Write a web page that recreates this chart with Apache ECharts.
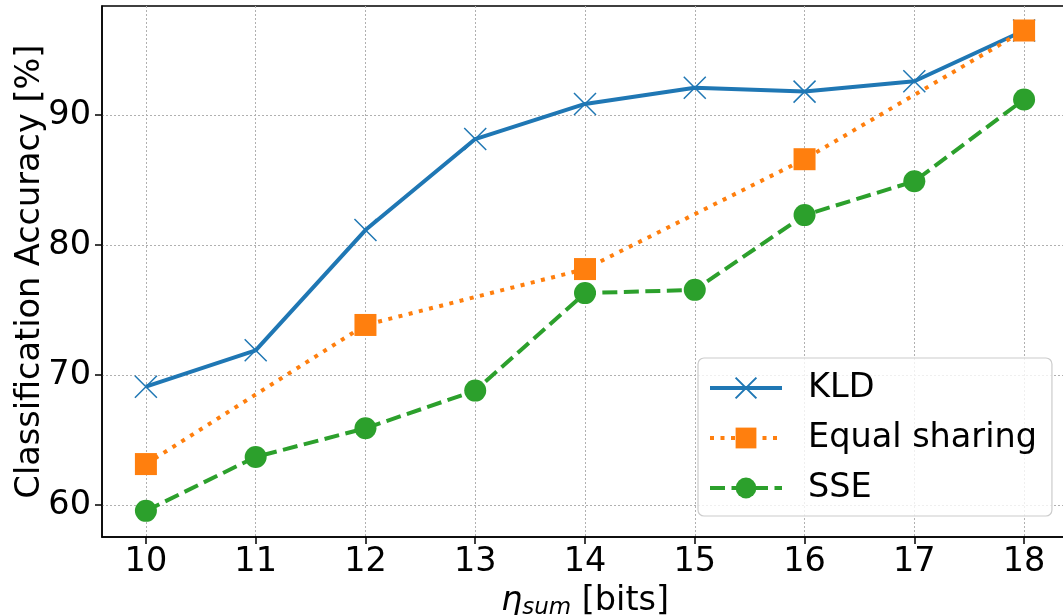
<!DOCTYPE html>
<html>
<head>
<meta charset="utf-8">
<script src="https://cdn.jsdelivr.net/npm/echarts@6/dist/echarts.min.js"></script>
<style>html,body{margin:0;padding:0;background:#fff}#c{width:1063px;height:615px}</style>
</head>
<body>
<div id="c"></div>
<script>
var xTicks = [10, 11, 12, 13, 14, 15, 16, 17, 18];
var yTicks = [60, 70, 80, 90];
var kldX = [10, 11, 12, 13, 14, 15, 16, 17, 18];
var kldY = [69.1, 71.9, 81.15, 88.15, 90.85, 92.1, 91.8, 92.6, 96.5];
var eqX = [10, 12, 14, 16, 18];
var eqY = [63.15, 73.85, 78.15, 86.6, 96.5];
var sseX = [10, 11, 12, 13, 14, 15, 16, 17, 18];
var sseY = [59.55, 63.7, 65.9, 68.8, 76.3, 76.55, 82.3, 84.9, 91.2];

function pairs(xs, ys) { return xs.map(function (x, i) { return [x, ys[i]]; }); }

var FONT = 'DejaVu Sans';
var FS = 33.5;
var chart = echarts.init(document.getElementById('c'), null, {renderer: 'canvas'});
var axisLine = {show: true, lineStyle: {color: '#000', width: 1.5}};
var splitLine = {show: true, lineStyle: {color: '#b0b0b0', width: 1, type: [2, 2]}};
var kldLine = {color: '#1f77b4', width: 4};
var eqLine = {color: '#ff7f0e', width: 4, type: [4, 6.5]};
var sseLine = {color: '#2ca02c', width: 4, type: [15, 6.5]};
chart.setOption({
  animation: false,
  textStyle: {fontFamily: FONT},
  grid: {left: 102, top: 6, width: 966, height: 531, show: true, borderColor: '#000', borderWidth: 1.5,
         backgroundColor: 'transparent', outerBoundsMode: 'none', containLabel: false},
  xAxis: {
    type: 'value', min: 9.6, max: 18.4,
    axisLine: axisLine,
    axisTick: {show: true, length: 7, lineStyle: {color: '#000', width: 1.5}, customValues: xTicks},
    splitLine: splitLine,
    axisLabel: {customValues: xTicks, color: '#000', fontSize: FS, fontFamily: FONT, margin: 8},
    name: '{eta|η}{sub|sum}{n| [bits]}',
    nameLocation: 'middle', nameGap: 45,
    nameTextStyle: {
      rich: {
        eta: {fontSize: FS, fontStyle: 'italic', fontFamily: FONT, color: '#000'},
        sub: {fontSize: 23, fontStyle: 'italic', fontFamily: FONT, color: '#000', verticalAlign: 'bottom', padding: [14, 0, 0, 0]},
        n: {fontSize: FS, fontFamily: FONT, color: '#000'}
      }
    }
  },
  yAxis: {
    type: 'value', min: 57.54, max: 98.385,
    axisLine: axisLine,
    axisTick: {show: true, length: 7, lineStyle: {color: '#000', width: 1.5}, customValues: yTicks},
    splitLine: splitLine,
    axisLabel: {customValues: yTicks, color: '#000', fontSize: FS, fontFamily: FONT, margin: 11},
    name: 'Classification Accuracy [%]', nameLocation: 'middle', nameGap: 55, nameMoveOverlap: false,
    nameTextStyle: {fontSize: FS, color: '#000', fontFamily: FONT}
  },
  legend: {
    left: 698, top: 358, orient: 'vertical',
    itemWidth: 72, itemHeight: 26, itemGap: 16,
    padding: [13, 15, 11, 10],
    borderColor: '#cccccc', borderWidth: 1.2, borderRadius: 6,
    backgroundColor: 'rgba(255,255,255,0.8)',
    textStyle: {fontSize: FS, color: '#000', fontFamily: FONT, padding: [0, 0, 0, 21]},
    data: [
      {name: 'KLD', lineStyle: kldLine},
      {name: 'Equal sharing', lineStyle: eqLine},
      {name: 'SSE', lineStyle: sseLine}
    ]
  },
  series: [
    {
      name: 'KLD', type: 'line', data: pairs(kldX, kldY),
      lineStyle: kldLine,
      symbol: 'path://M0,0L20,20M20,0L0,20', symbolSize: 22, showAllSymbol: true,
      itemStyle: {color: '#1f77b4', borderColor: '#1f77b4', borderWidth: 1.5}
    },
    {
      name: 'Equal sharing', type: 'line', data: pairs(eqX, eqY),
      lineStyle: eqLine,
      symbol: 'rect', symbolSize: 22, showAllSymbol: true,
      itemStyle: {color: '#ff7f0e', borderWidth: 0}
    },
    {
      name: 'SSE', type: 'line', data: pairs(sseX, sseY),
      lineStyle: sseLine,
      symbol: 'circle', symbolSize: 22, showAllSymbol: true,
      itemStyle: {color: '#2ca02c', borderWidth: 0}
    }
  ]
});
</script>
</body>
</html>
